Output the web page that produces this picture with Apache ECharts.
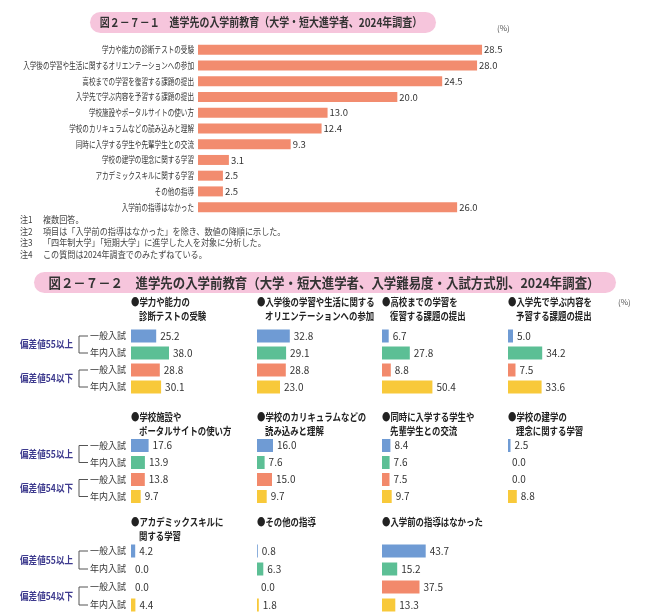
<!DOCTYPE html>
<html><head><meta charset="utf-8">
<script src="https://cdn.jsdelivr.net/npm/echarts@6/dist/echarts.min.js"></script>
<style>html,body{margin:0;padding:0;background:#fff}#c{width:650px;height:615px}</style>
</head><body><div id="c"></div>
<script>
const FONT = '"Noto Sans CJK JP", "Noto Sans", sans-serif';
const title1 = '図２－７－１　進学先の入学前教育（大学・短大進学者、2024年調査）';
const title2 = '図２－７－２　進学先の入学前教育（大学・短大進学者、入学難易度・入試方式別、2024年調査）';
const topCategories = ['学力や能力の診断テストの受験','入学後の学習や生活に関するオリエンテーションへの参加','高校までの学習を復習する課題の提出','入学先で学ぶ内容を予習する課題の提出','学校施設やポータルサイトの使い方','学校のカリキュラムなどの読み込みと理解','同時に入学する学生や先輩学生との交流','学校の建学の理念に関する学習','アカデミックスキルに関する学習','その他の指導','入学前の指導はなかった'];
const topValues = [28.5,28.0,24.5,20.0,13.0,12.4,9.3,3.1,2.5,2.5,26.0];
const notes = [['注1','複数回答。'],['注2','項目は「入学前の指導はなかった」を除き、数値の降順に示した。'],['注3','「四年制大学」「短期大学」に進学した人を対象に分析した。'],['注4','この質問は2024年調査でのみたずねている。']];
const rowLabels = ['一般入試','年内入試','一般入試','年内入試'];
const groupLabels = ['偏差値55以上','偏差値54以下'];
const panelTitles = [
  ['●学力や能力の','診断テストの受験'],
  ['●入学後の学習や生活に関する','オリエンテーションへの参加'],
  ['●高校までの学習を','復習する課題の提出'],
  ['●入学先で学ぶ内容を','予習する課題の提出'],
  ['●学校施設や','ポータルサイトの使い方'],
  ['●学校のカリキュラムなどの','読み込みと理解'],
  ['●同時に入学する学生や','先輩学生との交流'],
  ['●学校の建学の','理念に関する学習'],
  ['●アカデミックスキルに','関する学習'],
  ['●その他の指導'],
  ['●入学前の指導はなかった']
];
const panelValues = [
  [25.2,38.0,28.8,30.1],
  [32.8,29.1,28.8,23.0],
  [6.7,27.8,8.8,50.4],
  [5.0,34.2,7.5,33.6],
  [17.6,13.9,13.8,9.7],
  [16.0,7.6,15.0,9.7],
  [8.4,7.6,7.5,9.7],
  [2.5,0.0,0.0,8.8],
  [4.2,0.0,0.0,4.4],
  [0.8,6.3,0.0,1.8],
  [43.7,15.2,37.5,13.3]
];

// layout
const colorsP = ['#6f9bd4','#5cbf95','#f2896b','#f8c93a'];
const topColor = '#f28c6f';
const colX = [131,257,382,508];
const rowTop = [327.5,437,542];
const rowH = [68,68,72];
const titleY = [[302,316],[417,431],[522,536]];

const grids=[], xAxes=[], yAxes=[], series=[], graphic=[];
// top chart
grids.push({left:198, top:42, width:299, height:173, outerBoundsMode:'none', containLabel:false});
xAxes.push({gridIndex:0, type:'value', min:0, max:30, show:false});
yAxes.push({gridIndex:0, type:'category', data:topCategories, inverse:true,
  axisLine:{show:false}, axisTick:{show:false}, axisLabel:{show:false}});
series.push({type:'bar', xAxisIndex:0, yAxisIndex:0, data:topValues, barWidth:10,
  itemStyle:{color:topColor}, silent:true,
  label:{show:true, position:'right', distance:2, fontFamily:FONT, fontSize:9.5, color:'#333',
    formatter:p=>p.value.toFixed(1)}});

panelValues.forEach((vals,k)=>{
  const r = Math.floor(k/4), c = k%4;
  const gi = grids.length;
  grids.push({left:colX[c], top:rowTop[r], width:100, height:rowH[r], outerBoundsMode:'none', containLabel:false});
  xAxes.push({gridIndex:gi, type:'value', min:0, max:100, show:false});
  yAxes.push({gridIndex:gi, type:'category', data:rowLabels, inverse:true,
    axisLine:{show:false}, axisTick:{show:false},
    axisLabel:{show:c===0, fontFamily:FONT, fontSize:9, color:'#333', margin:5}});
  series.push({type:'bar', xAxisIndex:gi, yAxisIndex:gi, barWidth:13, silent:true,
    data: vals.map((v,i)=>({value:v, itemStyle:{color:colorsP[i]}})),
    label:{show:true, position:'right', distance:4, fontFamily:FONT, fontSize:10, color:'#333',
      formatter:p=>p.value.toFixed(1)}});
  panelTitles[k].forEach((t,li)=>{
    graphic.push({type:'text', x:colX[c] + (li>0?8:0), y:titleY[r][li], scaleX:0.8,
      style:{text:t, font:'bold 10.5px '+FONT, fill:'#222', verticalAlign:'middle'}});
  });
});

// group labels + brackets
rowTop.forEach((t,r)=>{
  const step = rowH[r]/4;
  [0,1].forEach(g=>{
    const y1 = t + (2*g+0.5)*step, y2 = t + (2*g+1.5)*step;
    graphic.push({type:'text', x:20, y:(y1+y2)/2, scaleX:0.86,
      style:{text:groupLabels[g], font:'bold 10px '+FONT, fill:'#3d3a8e', verticalAlign:'middle'}});
    graphic.push({type:'polyline', shape:{points:[[88,y1],[79,y1],[79,y2],[88,y2]]},
      style:{stroke:'#555', lineWidth:1, fill:null}});
  });
});

// title pills
graphic.push({type:'rect', shape:{x:90,y:12,width:346,height:21,r:10.5}, style:{fill:'#f6c5dc'}});
graphic.push({type:'text', x:261, y:22.5, scaleX:0.83, style:{text:title1, font:'bold 12px '+FONT, fill:'#333', align:'center', verticalAlign:'middle'}});
graphic.push({type:'text', x:497, y:28, style:{text:'(%)', font:'8px '+FONT, fill:'#555', align:'left', verticalAlign:'middle'}});
graphic.push({type:'rect', shape:{x:34,y:272,width:582,height:21,r:10.5}, style:{fill:'#f6c5dc'}});
graphic.push({type:'text', x:324, y:282.5, scaleX:0.92, style:{text:title2, font:'bold 13.5px '+FONT, fill:'#333', align:'center', verticalAlign:'middle'}});
graphic.push({type:'text', x:618, y:302, style:{text:'(%)', font:'8px '+FONT, fill:'#555', align:'left', verticalAlign:'middle'}});
// notes
const noteY=[220,232,243,255];
notes.forEach((n,i)=>{
  graphic.push({type:'text', x:20, y:noteY[i], scaleX:0.9, style:{text:n[0], font:'9px '+FONT, fill:'#444', verticalAlign:'middle'}});
  graphic.push({type:'text', x:43, y:noteY[i], scaleX:0.9, style:{text:n[1], font:'9px '+FONT, fill:'#444', verticalAlign:'middle'}});
});

const chart = echarts.init(document.getElementById('c'), null, {renderer:'canvas'});
chart.setOption({animation:false, backgroundColor:'#fff', grid:grids, xAxis:xAxes, yAxis:yAxes, series:series, graphic:graphic});
// top-chart category labels, placed at the positions the category axis gives (condensed like the original font)
const catLabels = topCategories.map((cat,i)=>{
  const p = chart.convertToPixel({gridIndex:0}, [0, i]);
  return {type:'text', x:p[0]-4, y:p[1], scaleX:0.73,
    style:{text:cat, font:'9px '+FONT, fill:'#333', align:'right', verticalAlign:'middle'}};
});
chart.setOption({graphic: graphic.concat(catLabels)});
</script></body></html>
